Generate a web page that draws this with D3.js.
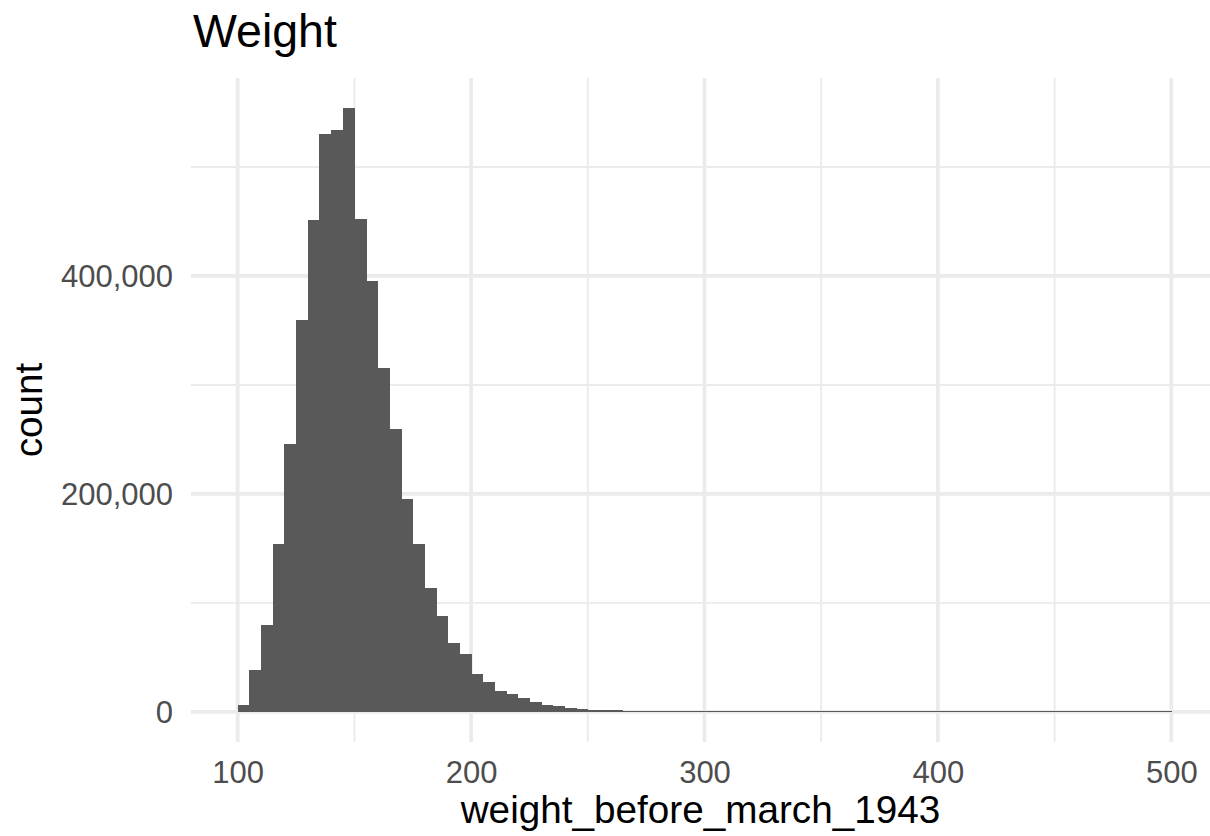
<!DOCTYPE html>
<html>
<head>
<meta charset="utf-8">
<script src="https://cdn.jsdelivr.net/npm/d3@7"></script>
<style>
  html, body { margin: 0; padding: 0; background: #fff; }
  svg { display: block; font-family: "Liberation Sans", Arial, Helvetica, sans-serif; }
</style>
</head>
<body>
<svg id="chart" width="1210" height="836"></svg>
<script>
// ---- data ----
const binStart = 100;
const binWidth = 5;
const counts = [
  6600, 38400, 79800, 154400, 246000, 360000, 451000, 530000, 533700, 554000,
  452000, 395000, 316000, 260000, 195700, 154400, 113300, 87600, 62900, 52800,
  34500, 27200, 18900, 16200, 12500, 8800, 6300, 5200, 3400, 2500,
  1800, 1500, 1300, 1200,
  950, 950, 940, 930, 920, 920, 910, 900, 900, 890,
  880, 880, 870, 870, 860, 860, 850, 850, 840, 840,
  830, 830, 820, 820, 810, 810, 800, 800, 800, 790,
  790, 780, 780, 770, 770, 760, 760, 750, 750, 740,
  740, 730, 730, 720, 720, 710
];
const xTicksMajor = [100, 200, 300, 400, 500];
const xTicksMinor = [150, 250, 350, 450];
const yTicksMajor = [0, 200000, 400000];
const yTicksMinor = [100000, 300000, 500000];
const titleText = "Weight";
const xTitle = "weight_before_march_1943";
const yTitle = "count";

// ---- layout ----
const svg = d3.select("#chart");
const panel = { left: 191, right: 1218, top: 78, bottom: 742 };

const bins = counts.map((c, i) => ({ x0: binStart + i * binWidth, x1: binStart + (i + 1) * binWidth, n: c }));
const xMin = d3.min(bins, d => d.x0), xMax = d3.max(bins, d => d.x1);
const xPad = (xMax - xMin) * 0.05;
const yMax = d3.max(bins, d => d.n);
const yPad = yMax * 0.05;

const x = d3.scaleLinear().domain([xMin - xPad, xMax + xPad]).range([panel.left, panel.right]);
const y = d3.scaleLinear().domain([-yPad, yMax + yPad]).range([panel.bottom, panel.top]);

const grid = svg.append("g");
// minor grid
grid.selectAll("line.vmin").data(xTicksMinor).join("line")
  .attr("x1", d => x(d)).attr("x2", d => x(d))
  .attr("y1", panel.top).attr("y2", panel.bottom)
  .attr("stroke", "#EBEBEB").attr("stroke-width", 1.9);
grid.selectAll("line.hmin").data(yTicksMinor).join("line")
  .attr("y1", d => y(d)).attr("y2", d => y(d))
  .attr("x1", panel.left).attr("x2", panel.right)
  .attr("stroke", "#EBEBEB").attr("stroke-width", 1.9);
// major grid
grid.selectAll("line.vmaj").data(xTicksMajor).join("line")
  .attr("x1", d => x(d)).attr("x2", d => x(d))
  .attr("y1", panel.top).attr("y2", panel.bottom)
  .attr("stroke", "#EBEBEB").attr("stroke-width", 3.75);
grid.selectAll("line.hmaj").data(yTicksMajor).join("line")
  .attr("y1", d => y(d)).attr("y2", d => y(d))
  .attr("x1", panel.left).attr("x2", panel.right)
  .attr("stroke", "#EBEBEB").attr("stroke-width", 3.75);

// bars
svg.append("g").selectAll("rect").data(bins).join("rect")
  .attr("x", d => x(d.x0))
  .attr("width", d => x(d.x1) - x(d.x0) + 0.5)
  .attr("y", d => y(d.n))
  .attr("height", d => Math.max(1, y(0) - y(d.n)))
  .attr("fill", "#595959")
  .attr("shape-rendering", "crispEdges");

// axes (labels only, ggplot theme_minimal style)
const xAxis = d3.axisBottom(x).tickValues(xTicksMajor).tickSize(0).tickPadding(0).tickFormat(d3.format("d"));
const gx = svg.append("g").attr("transform", `translate(0, ${panel.bottom + 41})`).call(xAxis);
gx.select(".domain").remove();
gx.selectAll("text").attr("fill", "#4D4D4D").attr("font-size", 31).attr("dy", 0)
  .attr("font-family", "Liberation Sans, Arial, sans-serif");

const yAxis = d3.axisLeft(y).tickValues(yTicksMajor).tickSize(0).tickPadding(0).tickFormat(d3.format(","));
const gy = svg.append("g").attr("transform", `translate(${panel.left - 18}, 0)`).call(yAxis);
gy.select(".domain").remove();
gy.selectAll("text").attr("fill", "#4D4D4D").attr("font-size", 31).attr("dy", "0.35em")
  .attr("font-family", "Liberation Sans, Arial, sans-serif");

// titles
svg.append("text").attr("x", 193).attr("y", 47)
  .attr("font-size", 46.5).attr("fill", "#000").text(titleText);
svg.append("text").attr("x", (panel.left + panel.right) / 2 - 4).attr("y", 823)
  .attr("text-anchor", "middle").attr("font-size", 38.7).attr("fill", "#000").text(xTitle);
svg.append("text")
  .attr("transform", `translate(42, ${(panel.top + panel.bottom) / 2}) rotate(-90)`)
  .attr("text-anchor", "middle").attr("font-size", 38.7).attr("fill", "#000").text(yTitle);
</script>
</body>
</html>
